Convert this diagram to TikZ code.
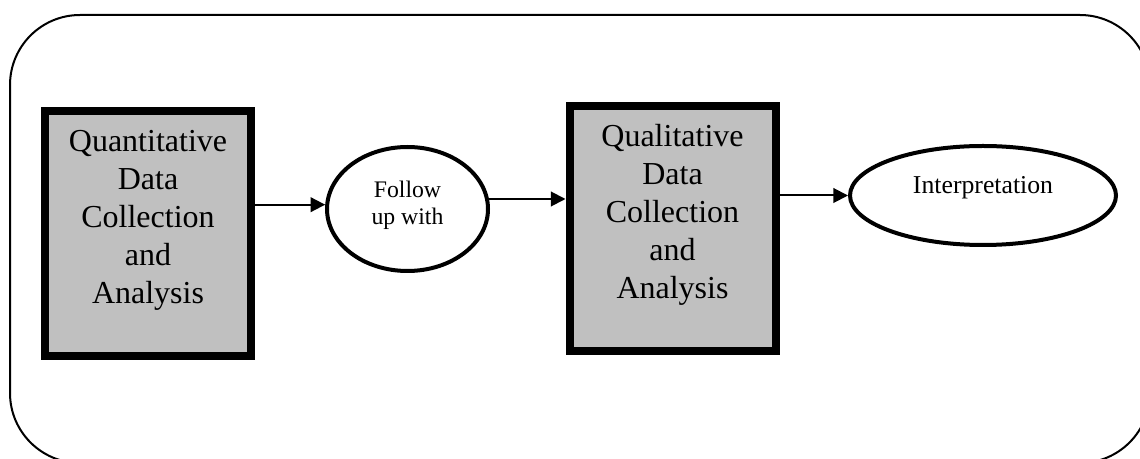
\documentclass[tikz,border=0pt]{standalone}
\usepackage{fontspec}
\setmainfont{Liberation Serif}
\usetikzlibrary{shapes.geometric,arrows.meta}
\definecolor{boxgray}{RGB}{192,192,192}
\tikzset{
  stagebox/.style={draw,line width=6pt,fill=boxgray,minimum width=154.5pt,minimum height=183.75pt,inner sep=0pt},
  stagetext/.style={align=center,font=\fontsize{24}{28.5}\selectfont,inner sep=0pt},
  linkoval/.style={draw,ellipse,line width=3pt,inner sep=0pt},
  flow/.style={line width=1.5pt,-{Triangle[length=11pt,width=11pt]}}
}
\begin{document}
\begin{tikzpicture}[x=0.75pt,y=-0.75pt]
\clip (0,0) rectangle (1140,459);
\useasboundingbox (0,0) rectangle (1140,459);
%%%%%%%%%%%%%%%%%%%% frame %%%%%%%%%%%%%%%%%%%%
\draw[line width=1.5pt,rounded corners=52.5pt] (10,15) rectangle (1150,463);
%%%%%%%%%%%%%%%%%%%% quantitative stage %%%%%%%%%%%%%%%%%%%%
\node[stagebox] (quan) at (148,233.5) {};
\node[stagetext] (quantxt) at (148,220) {Quantitative\\Data\\Collection\\and\\Analysis};
%%%%%%%%%%%%%%%%%%%% follow up %%%%%%%%%%%%%%%%%%%%
\node[linkoval,minimum width=120.75pt,minimum height=93pt] (fol) at (407.5,209) {};
\node[align=center,font=\fontsize{17.8}{20}\selectfont,inner sep=0pt] (foltxt) at (407.5,205) {Follow\\up with};
%%%%%%%%%%%%%%%%%%%% qualitative stage %%%%%%%%%%%%%%%%%%%%
\node[stagebox] (qual) at (672.5,228.5) {};
\node[stagetext] (qualtxt) at (672.5,215) {Qualitative\\Data\\Collection\\and\\Analysis};
%%%%%%%%%%%%%%%%%%%% interpretation %%%%%%%%%%%%%%%%%%%%
\node[linkoval,minimum width=199.5pt,minimum height=74.25pt] (interp) at (983,195.5) {};
\node[font=\fontsize{19.3}{22}\selectfont,inner sep=0pt] (interptxt) at (983,188) {Interpretation};
%%%%%%%%%%%%%%%%%%%% arrows %%%%%%%%%%%%%%%%%%%%
\draw[flow] (quan.east |- fol.177) -- (fol.177);
\draw[flow] (fol.7) -- (qual.west |- fol.7);
\draw[flow] (qual.east |- interp.west) -- (interp.west);
\end{tikzpicture}
\end{document}
